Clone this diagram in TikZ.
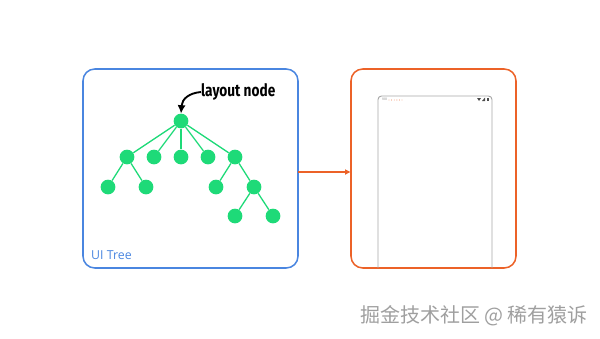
\documentclass[tikz,border=0pt]{standalone}
\usepackage{fontspec}
\setsansfont{Open Sans}
\newfontfamily\handfont{Fira Sans}
\newfontfamily\cjkfont{Noto Sans CJK SC}
\usetikzlibrary{arrows.meta}

\definecolor{treeblue}{RGB}{74,134,224}
\definecolor{screenorange}{RGB}{236,98,40}
\definecolor{leafgreen}{RGB}{30,218,120}

\tikzset{
  tnode/.style={circle, fill=leafgreen, inner sep=0pt, minimum size=12.5},
  tedge/.style={leafgreen, line width=1.1pt},
  panel/.style={rounded corners=10, line width=1.3pt},
}

\begin{document}
\begin{tikzpicture}[x=0.85pt, y=-0.85pt]
\useasboundingbox (0,0) rectangle (600,338);

% the two panels
\draw [panel, treeblue] (83,69) rectangle (298,268);
\draw [panel, screenorange] (351,69) rectangle (516,268);
\node [anchor=south west, inner sep=0pt, text=treeblue, font=\sffamily\fontsize{10.5}{12}\selectfont] (title) at (91,260) {UI Tree};

% tree
\node [tnode] (r) at (181,121) {};
\node [tnode] (a) at (127,157) {};
\node [tnode] (b) at (154,157) {};
\node [tnode] (c) at (181,157) {};
\node [tnode] (d) at (208,157) {};
\node [tnode] (e) at (235,157) {};
\node [tnode] (a1) at (108,187) {};
\node [tnode] (a2) at (146,187) {};
\node [tnode] (e1) at (216,187) {};
\node [tnode] (e2) at (254,187) {};
\node [tnode] (f1) at (235,216) {};
\node [tnode] (f2) at (273,216) {};

\foreach \p/\c in {r/a, r/b, r/c, r/d, r/e, a/a1, a/a2, e/e1, e/e2, e2/f1, e2/f2}
  \draw [tedge] (\p) -- (\c);

\node [anchor=west, inner sep=0pt, font=\handfont\bfseries\fontsize{14.5}{15}\selectfont] (lbl) at (201,92) {\scalebox{0.8}[1]{layout node}};
\draw [line width=1.6pt, -{Latex[length=7pt, width=7pt]}] (lbl.west) .. controls (189,93) and (182,99) .. (r.north);

% phone screen
\draw [gray!70, line width=0.8pt, rounded corners=3] (378,268) -- (378,96) -- (492,96) -- (492,268);
\node [anchor=west, inner sep=0pt, text=gray, font=\sffamily\fontsize{3}{3}\selectfont] (clock) at (382,99.5) {VIII};
\foreach \i in {0,...,5}
  \fill [screenorange] (389+2.6*\i,100) circle [radius=0.45];
\fill [gray!60!black] (477,98) -- (481,98) -- (479,101) -- cycle;
\fill [gray!60!black] (482,101) -- (485,97.5) -- (485,101) -- cycle;
\fill [gray!60!black] (486.5,97.5) rectangle (488.5,101);

% render arrow
\draw [screenorange, line width=1pt, -{Latex[length=5pt, width=5pt]}] (298,172) -- (351,172);

% watermark
\node [inner sep=0pt, text=gray!75, font=\cjkfont\fontsize{17}{18}\selectfont] (mark) at (474,316) {掘金技术社区 @ 稀有猿诉};
\end{tikzpicture}
\end{document}
